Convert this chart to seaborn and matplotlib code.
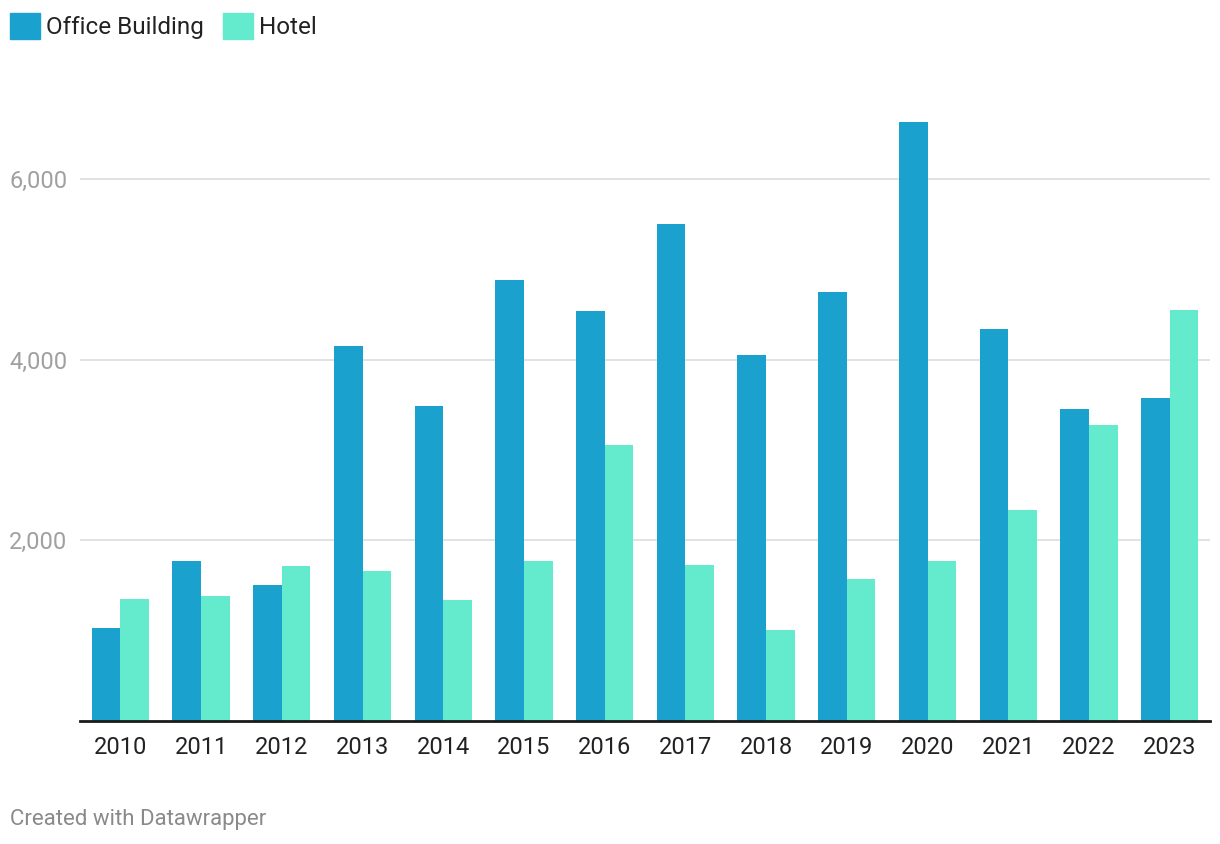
"""
Office building vs hotel - yearly grouped bar chart (Datawrapper style).

Saves: out.png
"""

import matplotlib.pyplot as plt
import matplotlib.patches as mpatches
import pandas as pd
import seaborn as sns

YEARS = ["2010", "2011", "2012", "2013", "2014", "2015", "2016",
         "2017", "2018", "2019", "2020", "2021", "2022", "2023"]
OFFICE = [1030, 1775, 1505, 4155, 3490, 4885, 4545,
          5505, 4055, 4755, 6635, 4345, 3455, 3580]
HOTEL = [1350, 1385, 1715, 1665, 1340, 1775, 3055,
         1730, 1010, 1575, 1775, 2340, 3280, 4555]
SERIES = ["Office Building", "Hotel"]
COLORS = ["#1ba1cd", "#64eacd"]
Y_TICKS = [2000, 4000, 6000]

FONT = ["Roboto", "DejaVu Sans"]


def main():
    sns.set_theme(style="white")
    plt.rcParams["font.family"] = FONT

    df = pd.DataFrame({
        "year": YEARS * 2,
        "value": OFFICE + HOTEL,
        "series": [SERIES[0]] * len(YEARS) + [SERIES[1]] * len(YEARS),
    })

    fig = plt.figure(figsize=(12.2, 8.44), dpi=100)
    ax = fig.add_axes([80 / 1220, 1 - 721 / 844, 1130 / 1220, (721 - 89) / 844])

    sns.barplot(
        data=df, x="year", y="value", hue="series",
        palette=COLORS, width=0.71, saturation=1, ax=ax,
        legend=False, linewidth=0,
    )

    ax.set_xlim(-0.5, len(YEARS) - 0.5)
    ax.set_ylim(0, 7000)
    ax.set_yticks(Y_TICKS)
    ax.set_yticklabels([f"{t:,}" for t in Y_TICKS])
    ax.set_xlabel("")
    ax.set_ylabel("")

    ax.yaxis.grid(True, color="#e2e2e2", linewidth=1.4)
    ax.set_axisbelow(True)
    for side in ["left", "right", "top"]:
        ax.spines[side].set_visible(False)
    ax.spines["bottom"].set_color("#1a1a1a")
    ax.spines["bottom"].set_linewidth(2)
    ax.spines["bottom"].set_zorder(5)

    ax.tick_params(axis="y", length=0, pad=9, labelsize=17, labelcolor="#a0a0a0")
    ax.tick_params(axis="x", length=0, pad=10.5, labelsize=17, labelcolor="#222222")

    # square legend swatches in the top-left corner
    handles = [mpatches.Patch(color=c, label=s) for c, s in zip(COLORS, SERIES)]
    fig.legend(
        handles=handles, loc="upper left", bbox_to_anchor=(10 / 1220, 1 - 13 / 844),
        ncol=2, frameon=False, fontsize=17.5, handlelength=1.25, handleheight=1.25,
        handletextpad=0.25, columnspacing=0.75, labelcolor="#222222",
        borderpad=0, borderaxespad=0,
    )

    fig.text(10 / 1220, 1 - 819 / 844, "Created with Datawrapper",
             fontsize=16, color="#8a8a8a", va="center", ha="left")

    fig.savefig("out.png", dpi=100, facecolor="white")
    plt.close(fig)


if __name__ == "__main__":
    main()
